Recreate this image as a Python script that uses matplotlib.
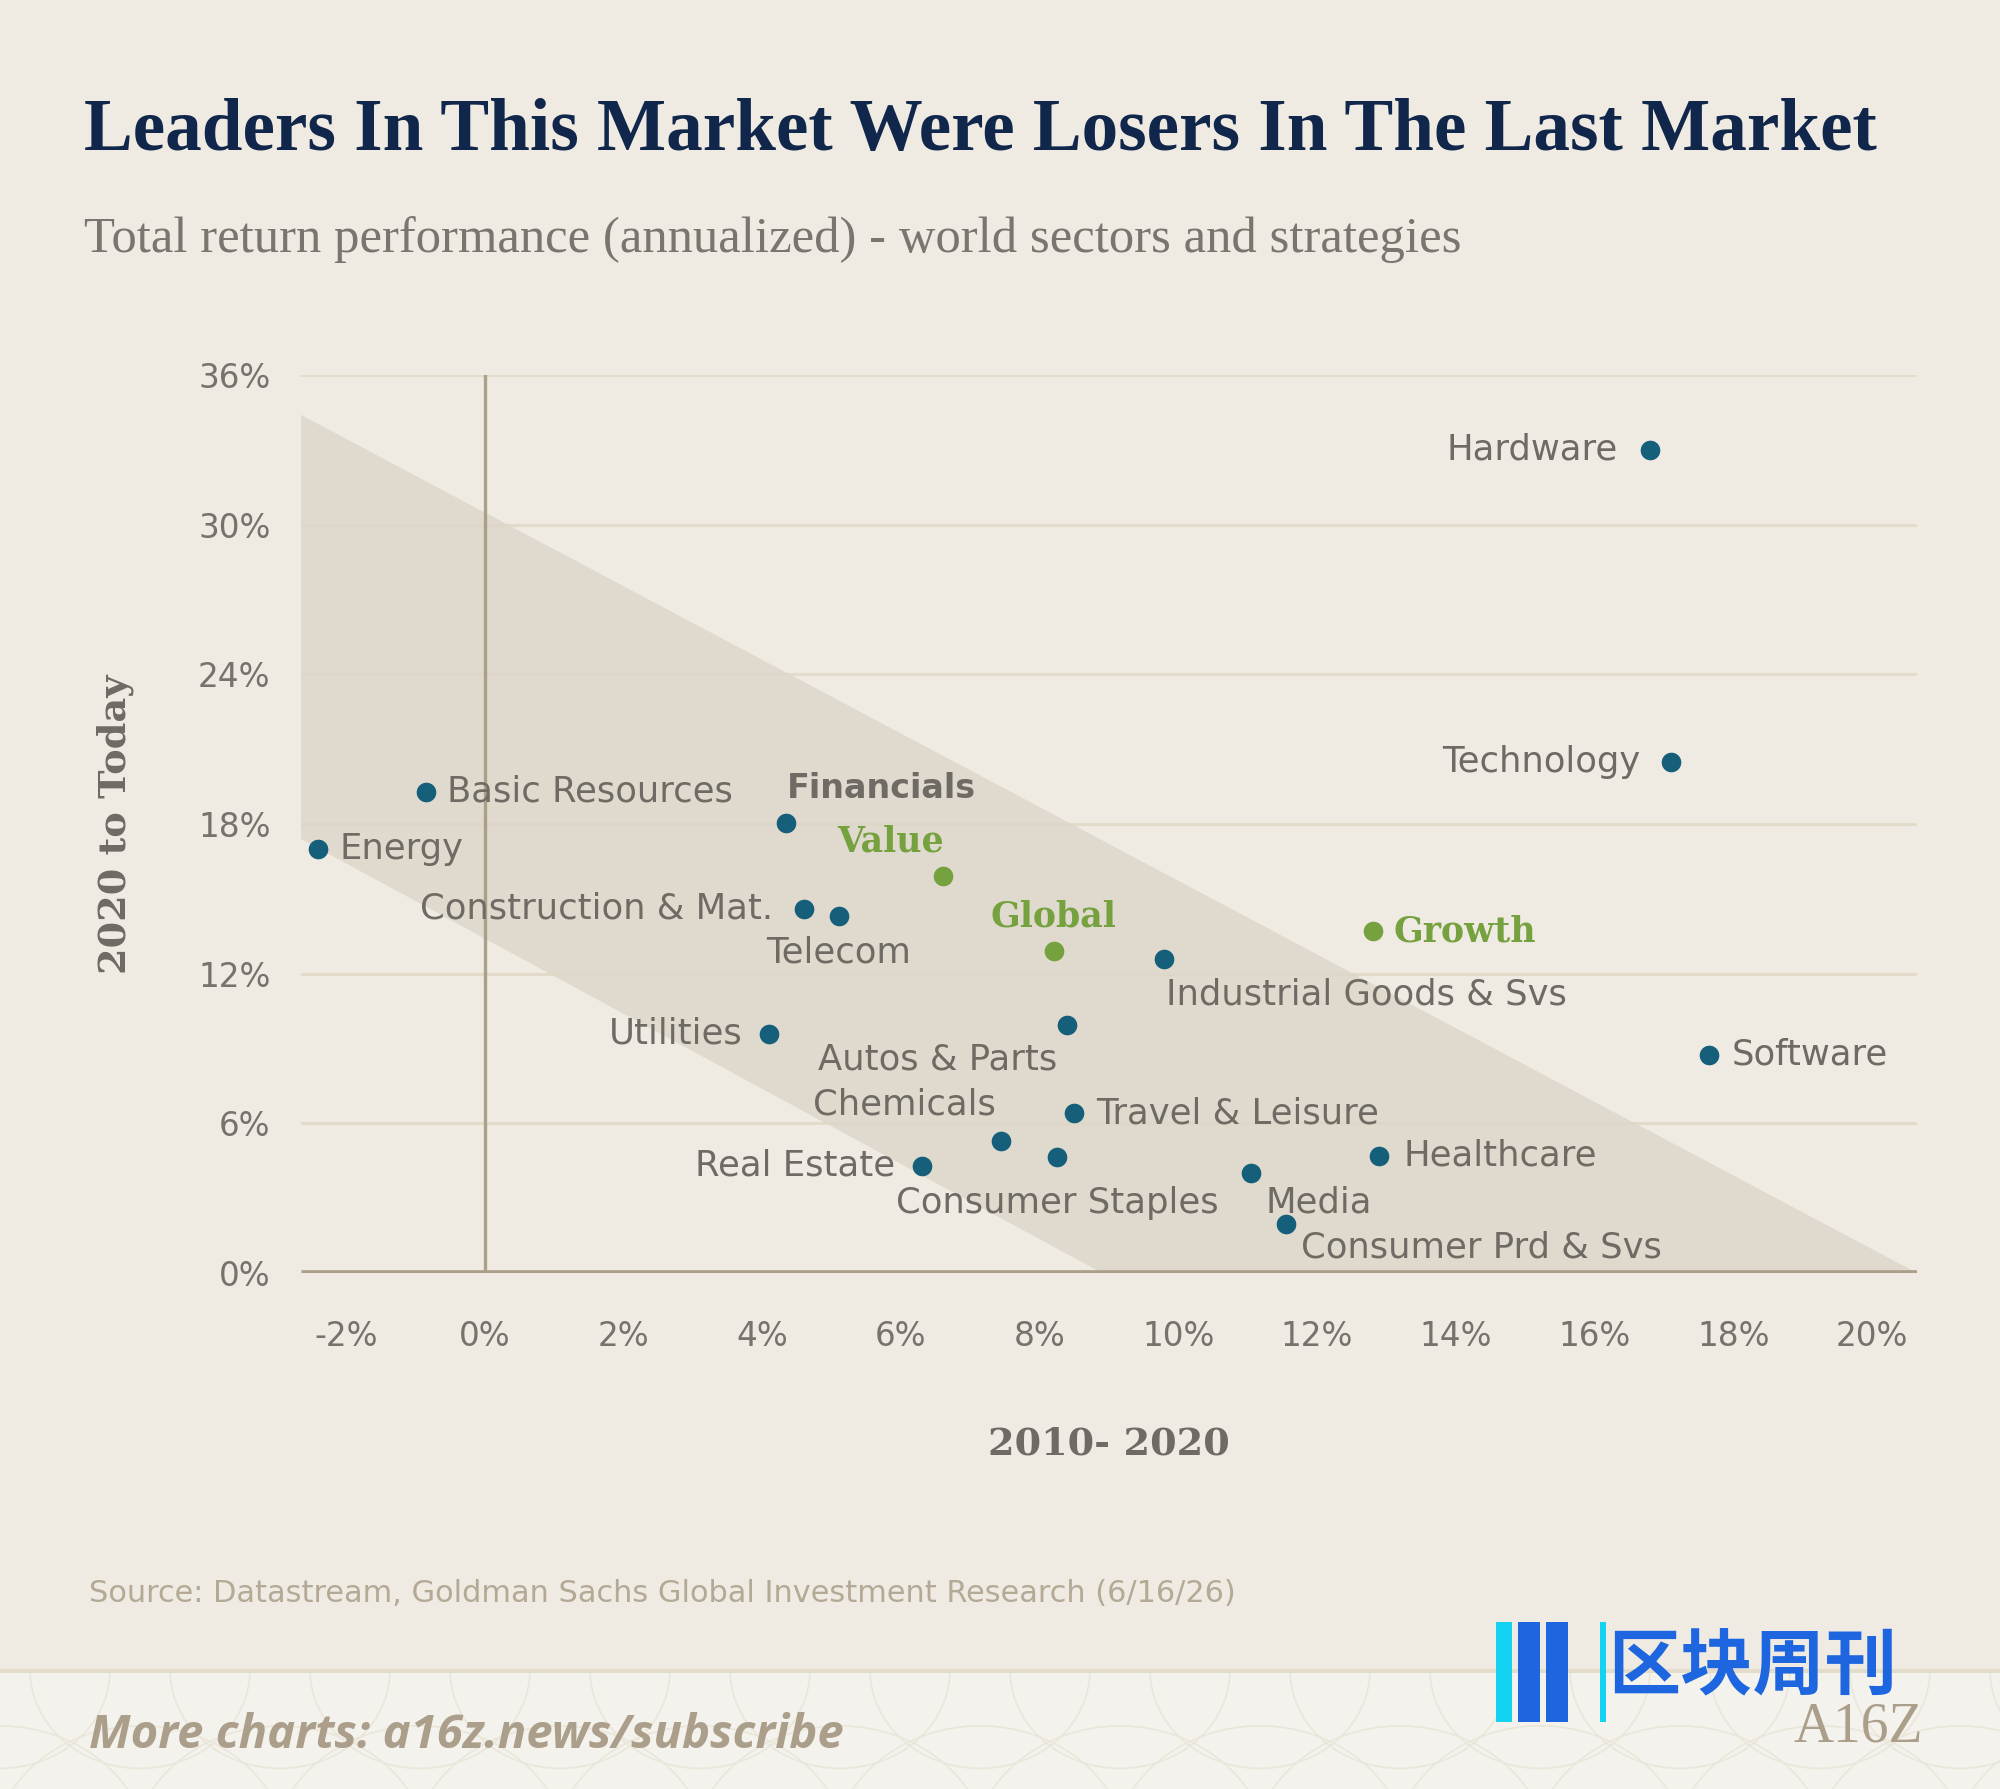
import matplotlib
matplotlib.use("Agg")
import matplotlib.pyplot as plt
from matplotlib.patches import Polygon, Rectangle, Circle

# ---------------- data ----------------
names = ["Hardware", "Technology", "Software", "Growth", "Healthcare", "Media",
         "Consumer Prd & Svs", "Industrial Goods & Svs", "Global", "Value",
         "Financials", "Construction & Mat.", "Telecom", "Basic Resources",
         "Energy", "Utilities", "Autos & Parts", "Travel & Leisure",
         "Chemicals", "Consumer Staples", "Real Estate"]
ret_2010_2020 = [16.8, 17.1, 17.65, 12.8, 12.9, 11.05, 11.55, 9.8, 8.2, 6.6,
                 4.35, 4.6, 5.1, -0.85, -2.4, 4.1, 8.4, 8.5, 7.45, 8.25, 6.3]
ret_2020_today = [33.0, 20.5, 8.75, 13.7, 4.7, 4.0, 1.95, 12.6, 12.9, 15.9,
                  18.05, 14.6, 14.3, 19.3, 17.0, 9.6, 9.95, 6.4, 5.3, 4.65, 4.3]
kind = ["sector", "sector", "sector", "strategy", "sector", "sector", "sector",
        "sector", "strategy", "strategy", "sector", "sector", "sector", "sector",
        "sector", "sector", "sector", "sector", "sector", "sector", "sector"]
bold_names = ["Financials"]

x_ticks = [-2, 0, 2, 4, 6, 8, 10, 12, 14, 16, 18, 20]
y_ticks = [0, 6, 12, 18, 24, 30, 36]

# shaded band (diagonal) corner values
band_x = [-2.65, 20.65, 8.9, -2.65]
band_y = [34.4, 0.0, 0.0, 17.4]

title = "Leaders In This Market Were Losers In The Last Market"
subtitle = "Total return performance (annualized) - world sectors and strategies"
x_label = "2010- 2020"
y_label = "2020 to Today"
source = "Source: Datastream, Goldman Sachs Global Investment Research (6/16/26)"
footer = "More charts: a16z.news/subscribe"

# ---------------- label placement (style) ----------------
# (dx, dy in points, ha)
place = {
    "Hardware": (-23, 0, "right"),
    "Technology": (-22, 0, "right"),
    "Software": (16, 0, "left"),
    "Growth": (15, 0, "left"),
    "Healthcare": (17, 0, "left"),
    "Media": (10, -21, "left"),
    "Consumer Prd & Svs": (11, -17, "left"),
    "Industrial Goods & Svs": (1, -26, "left"),
    "Global": (0, 25, "center"),
    "Value": (1, 25, "right"),
    "Financials": (0, 25, "left"),
    "Construction & Mat.": (-22, 0, "right"),
    "Telecom": (0, -26, "center"),
    "Basic Resources": (15, 0, "left"),
    "Energy": (15, 0, "left"),
    "Utilities": (-19, 0, "right"),
    "Autos & Parts": (-7, -25, "right"),
    "Travel & Leisure": (16, 0, "left"),
    "Chemicals": (-4, 26, "right"),
    "Consumer Staples": (0, -33, "center"),
    "Real Estate": (-19, 0, "right"),
}

BG = "#efebe3"
BAND = "#ddd7ca"
GRID = "#e2dbca"
AXIS = "#ab9f8a"
BLUE = "#155f7b"
GREEN = "#76a13f"
GRAY = "#6f6b64"
TICK = "#77736c"
NAVY = "#10264a"
TAN = "#ab9f8b"

SANS = ["DejaVu Sans"]
SERIF = ["Liberation Serif", "DejaVu Serif"]
SLAB = ["DejaVu Serif"]

W, H = 2000, 1789
fig = plt.figure(figsize=(20, 17.89), dpi=100, facecolor=BG)

# footer band with faint decorative arcs
foot = Rectangle((0, 0), 1, 1 - 1671 / H, transform=fig.transFigure,
                 facecolor="#f4f2ec", edgecolor="none", zorder=0)
fig.patches.append(foot)
for i in range(-1, 16):
    for cy, r in [(1860, 150), (1670, 110)]:
        c = Circle((i * 140 / W, 1 - cy / H), r / W, transform=fig.transFigure,
                   facecolor="none", edgecolor="#ebe6da", lw=1.2, zorder=0.5)
        c.set_clip_path(foot)
        fig.patches.append(c)
fig.patches.append(Rectangle((0, 1 - 1673 / H), 1, 4 / H, transform=fig.transFigure,
                             facecolor="#e3dccb", edgecolor="none", zorder=1))

ax = fig.add_axes([301 / W, 1 - 1273 / H, (1917 - 301) / W, (1273 - 375) / H])
ax.set_facecolor("none")
ax.set_xlim(-2.65, 20.65)
ax.set_ylim(0, 36)
for s in ax.spines.values():
    s.set_visible(False)

ax.add_patch(Polygon(list(zip(band_x, band_y)), closed=True, facecolor=BAND,
                     edgecolor="none", alpha=0.85, zorder=1))

for yt in y_ticks[1:]:
    ax.axhline(yt, color=GRID, lw=2.2, zorder=0.5)
ax.axvline(0, ymin=0, ymax=1, color=AXIS, lw=2.4, zorder=2)
ax.axhline(0, color=AXIS, lw=4.8, zorder=3, solid_capstyle="butt")

ax.set_xticks(x_ticks)
ax.set_xticklabels([f"{v}%" for v in x_ticks])
ax.set_yticks(y_ticks)
ax.set_yticklabels([f"{v}%" for v in y_ticks])
ax.tick_params(length=0, labelsize=23.5, labelcolor=TICK)
ax.tick_params(axis="x", pad=34)
ax.tick_params(axis="y", pad=22)
for lab in ax.get_xticklabels() + ax.get_yticklabels():
    lab.set_family(SANS)

for n, xv, yv, k in zip(names, ret_2010_2020, ret_2020_today, kind):
    col = GREEN if k == "strategy" else BLUE
    ax.scatter([xv], [yv], s=200, color=col, zorder=5, clip_on=False, linewidths=0)
    dx, dy, ha = place[n]
    if k == "strategy":
        fam, fw, tc, fs = SLAB, "bold", GREEN, 25
    elif n in bold_names:
        fam, fw, tc, fs = SANS, "bold", GRAY, 24
    else:
        fam, fw, tc, fs = SANS, "normal", GRAY, 25.5
    ax.annotate(n, (xv, yv), xytext=(dx, dy), textcoords="offset points",
                ha=ha, va="center", fontsize=fs, color=tc, family=fam,
                fontweight=fw, zorder=6)

ax.set_xlabel(x_label, fontsize=27.5, color=GRAY, family=SLAB, fontweight="bold",
              labelpad=52)
ax.set_ylabel(y_label, fontsize=27.5, color=GRAY, family=SLAB, fontweight="bold",
              labelpad=46)

fig.text(84 / W, 1 - 132 / H, title, fontsize=52.7, color=NAVY, family=SERIF,
         fontweight="bold", va="center", ha="left")
fig.text(84 / W, 1 - 240 / H, subtitle, fontsize=36.5, color="#7a766f",
         family=SERIF, va="center", ha="left")
fig.text(89 / W, 1 - 1594 / H, source, fontsize=21.9, color="#b3a995",
         family=SANS, va="center", ha="left")
fig.text(89 / W, 1 - 1735 / H, footer, fontsize=34, color=TAN,
         family=["Open Sans", "DejaVu Sans"], fontweight="bold", style="italic",
         va="center", ha="left", zorder=3)

# watermark logo
fig.text(1608 / W, 1 - 1668 / H, "区块周刊", fontsize=52, color="#1d66df",
         family=["Noto Sans CJK SC", "DejaVu Sans"], fontweight="bold",
         va="center", ha="left", zorder=4)
fig.text(1858 / W, 1 - 1728 / H, "A16Z", fontsize=40, color=TAN,
         family=SERIF, va="center", ha="center", zorder=4)
for (x0, w, c) in [(1496, 16, "#14d2f2"), (1518, 22, "#1d66df"), (1546, 22, "#1d66df"),
                   (1600, 6, "#14d2f2")]:
    fig.patches.append(Rectangle((x0 / W, 1 - 1722 / H), w / W, 100 / H,
                                 transform=fig.transFigure, facecolor=c,
                                 edgecolor="none", zorder=3))

fig.savefig("out.png", dpi=100, facecolor=BG)
